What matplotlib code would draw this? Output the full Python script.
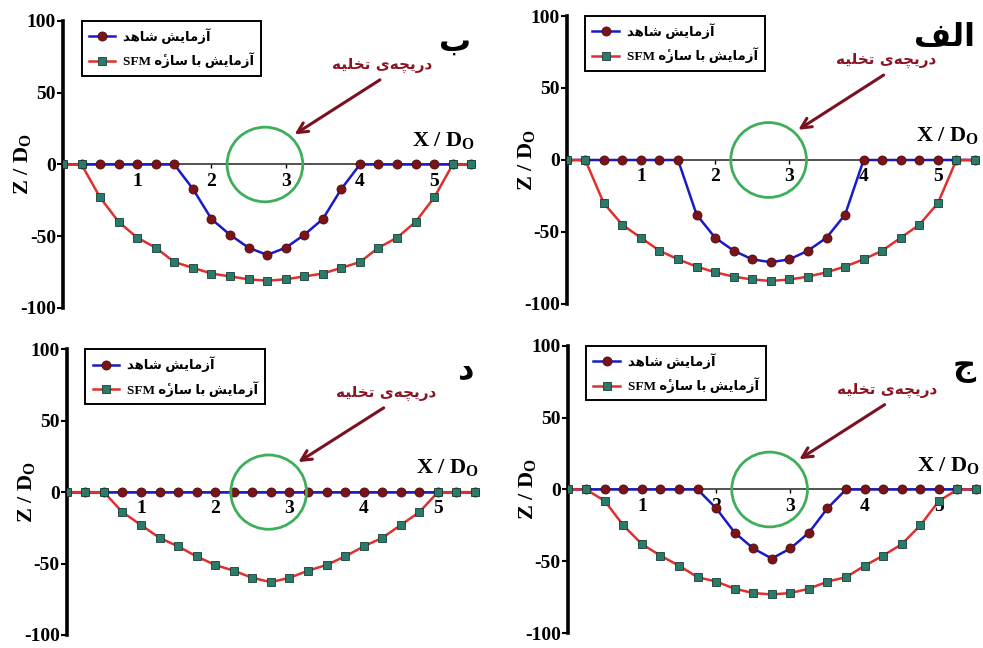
import re
import matplotlib
matplotlib.use("Agg")
import matplotlib.pyplot as plt
from matplotlib.patches import Ellipse

x = [0, 0.25, 0.5, 0.75, 1.0, 1.25, 1.5, 1.75, 2.0, 2.25, 2.5, 2.75,
     3.0, 3.25, 3.5, 3.75, 4.0, 4.25, 4.5, 4.75, 5.0, 5.25, 5.5]

# الف (top right)
alef_control = [0, 0, 0, 0, 0, 0, 0, -38, -54, -63, -69, -71, -69, -63, -54, -38, 0, 0, 0, 0, 0, 0, 0]
alef_sfm = [0, 0, -30, -45, -54, -63, -69, -74, -78, -81, -83, -84, -83, -81, -78, -74, -69, -63, -54, -45, -30, 0, 0]
# ب (top left)
be_control = [0, 0, 0, 0, 0, 0, 0, -17, -38, -49, -58, -63, -58, -49, -38, -17, 0, 0, 0, 0, 0, 0, 0]
be_sfm = [0, 0, -23, -40, -51, -58, -68, -72, -76, -78, -80, -81, -80, -78, -76, -72, -68, -58, -51, -40, -23, 0, 0]
# ج (bottom right)
jim_control = [0, 0, 0, 0, 0, 0, 0, 0, -13, -30, -41, -48, -41, -30, -13, 0, 0, 0, 0, 0, 0, 0, 0]
jim_sfm = [0, 0, -8, -25, -38, -46, -53, -61, -64, -69, -72, -73, -72, -69, -64, -61, -53, -46, -38, -25, -8, 0, 0]
# د (bottom left)
dal_control = [0] * 23
dal_sfm = [0, 0, 0, -14, -23, -32, -38, -45, -51, -55, -60, -63, -60, -55, -51, -45, -38, -32, -23, -14, 0, 0, 0]

label_control = "آزمایش شاهد"
label_sfm = "آزمایش با سازهٔ SFM"
label_outlet = "دریچه‌ی تخلیه"
yticks = [-100, -50, 0, 50, 100]
xticks = [1, 2, 3, 4, 5]

# minimal Persian shaping (matplotlib has no Arabic text layout)
FORMS = {
    '\u0622': ('\uFE81', '\uFE82', None, None),
    '\u0627': ('\uFE8D', '\uFE8E', None, None),
    '\u0628': ('\uFE8F', '\uFE90', '\uFE91', '\uFE92'),
    '\u062A': ('\uFE95', '\uFE96', '\uFE97', '\uFE98'),
    '\u062C': ('\uFE9D', '\uFE9E', '\uFE9F', '\uFEA0'),
    '\u0686': ('\uFB7A', '\uFB7B', '\uFB7C', '\uFB7D'),
    '\u062E': ('\uFEA5', '\uFEA6', '\uFEA7', '\uFEA8'),
    '\u062F': ('\uFEA9', '\uFEAA', None, None),
    '\u0631': ('\uFEAD', '\uFEAE', None, None),
    '\u0632': ('\uFEAF', '\uFEB0', None, None),
    '\u0633': ('\uFEB1', '\uFEB2', '\uFEB3', '\uFEB4'),
    '\u0634': ('\uFEB5', '\uFEB6', '\uFEB7', '\uFEB8'),
    '\u0641': ('\uFED1', '\uFED2', '\uFED3', '\uFED4'),
    '\u0644': ('\uFEDD', '\uFEDE', '\uFEDF', '\uFEE0'),
    '\u0645': ('\uFEE1', '\uFEE2', '\uFEE3', '\uFEE4'),
    '\u0647': ('\uFEE9', '\uFEEA', '\uFEEB', '\uFEEC'),
    '\u06C0': ('\uFBA4', '\uFBA5', None, None),
    '\u06CC': ('\uFBFC', '\uFBFD', '\uFBFE', '\uFBFF'),
}


def fa(s):
    s = s.replace('\u0647\u0654', '\u06C0')
    out = []
    for i, ch in enumerate(s):
        if ch not in FORMS:
            out.append(ch)
            continue
        f = FORMS[ch]
        prev = s[i - 1] if i > 0 else ''
        nxt = s[i + 1] if i + 1 < len(s) else ''
        jp = prev in FORMS and FORMS[prev][2] is not None
        jn = f[2] is not None and nxt in FORMS
        if jp and jn:
            out.append(f[3])
        elif jp:
            out.append(f[1])
        elif jn:
            out.append(f[2])
        else:
            out.append(f[0])
    s2 = ''.join(out).replace('\u200c', '')
    runs = re.findall(r'[A-Za-z0-9]+|[^A-Za-z0-9]+', s2)
    vis = ''.join(r if r[0].isascii() else r[::-1] for r in reversed(runs))
    # heh with hamza: no glyph in DejaVu, use heh + combining hamza (mark after base)
    return vis.replace('\uFBA4', '\uFEE9\u0654').replace('\uFBA5', '\uFEEA\u0654')


panels = [
    ("ب", [0.0641, 0.5247, 0.4191, 0.4429], be_control, be_sfm),
    ("الف", [0.5765, 0.5309, 0.4191, 0.4444], alef_control, alef_sfm),
    ("د", [0.0679, 0.0201, 0.4191, 0.4409], dal_control, dal_sfm),
    ("ج", [0.5775, 0.0227, 0.4191, 0.4438], jim_control, jim_sfm),
]

serif = "Liberation Serif"
fig = plt.figure(figsize=(9.83, 6.48), dpi=100)

for letter, pos, control, sfm in panels:
    ax = fig.add_axes(pos)
    ax.plot(x, control, color="#1a1ac8", lw=1.8, marker="o", ms=6.5,
            mfc="#7b1418", mec="#4a0a0c", mew=0.6, label=fa(label_control), zorder=3)
    ax.plot(x, sfm, color="#e0302e", lw=1.8, marker="s", ms=5.5,
            mfc="#2b7a6a", mec="#163e36", mew=0.6, label=fa(label_sfm), zorder=4)

    ax.set_xlim(0, 5.55)
    ax.set_ylim(-100, 100)
    ax.spines["top"].set_visible(False)
    ax.spines["right"].set_visible(False)
    ax.spines["bottom"].set_position(("data", 0))
    ax.spines["bottom"].set_linewidth(1.2)
    ax.spines["bottom"].set_color("#333333")
    ax.spines["left"].set_linewidth(2.6)
    ax.set_xticks(xticks)
    ax.set_yticks(yticks)
    ax.set_xticklabels([str(t) for t in xticks], fontfamily=serif, fontweight="bold", fontsize=14)
    ax.set_yticklabels([str(t) for t in yticks], fontfamily=serif, fontweight="bold", fontsize=14)
    ax.tick_params(axis="x", length=3, width=1, pad=3)
    ax.tick_params(axis="y", length=4, width=1.5, pad=1)
    ax.set_ylabel(r"Z / D$_\mathregular{O}$", fontfamily=serif, fontweight="bold", fontsize=16)
    ax.yaxis.set_label_coords(-0.07, 0.5)
    ax.text(5.55, 9, r"X / D$_\mathregular{O}$", fontfamily=serif, fontweight="bold",
            fontsize=16, ha="right", va="bottom")

    ax.add_patch(Ellipse((2.72, 0), 1.02, 52, fill=False, ec="#3fae5a", lw=2, zorder=5))
    ax.text(4.3, 69, fa(label_outlet), fontfamily="DejaVu Sans", fontweight="bold",
            fontsize=11, color="#8b1422", ha="center", va="center")
    ax.annotate("", xy=(3.12, 21), xytext=(4.27, 59),
                arrowprops=dict(arrowstyle="->", color="#7a1020", lw=2.2,
                                mutation_scale=18, shrinkA=0, shrinkB=0))
    ax.text(0.99, 0.925, fa(letter), transform=ax.transAxes, fontfamily="DejaVu Sans",
            fontweight="bold", fontsize=23, ha="right", va="center")

    leg = ax.legend(loc="upper left", bbox_to_anchor=(0.045, 1.0), borderaxespad=0,
                    fancybox=False, framealpha=1, edgecolor="black", numpoints=1,
                    handlelength=2.0, handletextpad=0.6,
                    prop={"family": [serif, "DejaVu Sans"], "weight": "bold", "size": 9.5},
                    borderpad=0.55, labelspacing=0.65)
    leg.get_frame().set_linewidth(1.4)

fig.savefig("out.png", dpi=100)
